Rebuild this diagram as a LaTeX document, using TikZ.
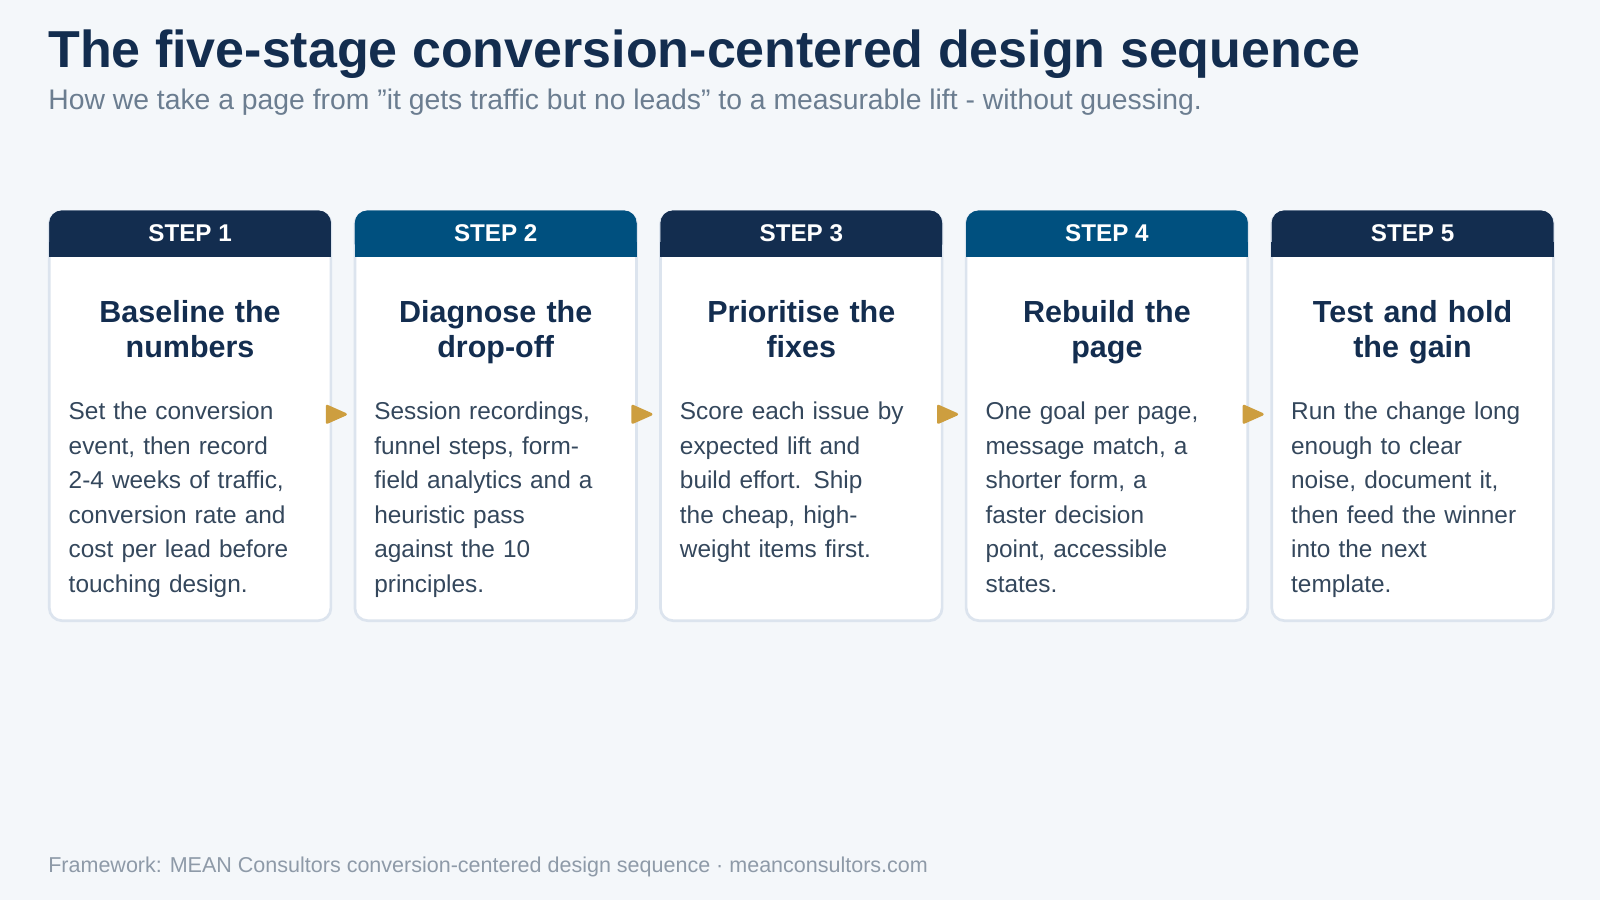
\documentclass[tikz,border=0pt]{standalone}
\usepackage{fontspec}
\setmainfont{Liberation Sans}
\usetikzlibrary{positioning}
\definecolor{pagebg}{HTML}{F4F7FA}
\definecolor{navy}{HTML}{132D4F}
\definecolor{teal}{HTML}{00507F}
\definecolor{cardline}{HTML}{DCE4EE}
\definecolor{bodytext}{HTML}{34475C}
\definecolor{subgrey}{HTML}{6B7D90}
\definecolor{footgrey}{HTML}{8E9AA8}
\definecolor{gold}{HTML}{CD9E3F}
\tikzset{
  card/.style={draw=cardline, line width=1.5pt, fill=white, rounded corners=7pt,
    minimum width=5.52cm, minimum height=8.02cm, inner sep=0pt, anchor=north west},
  head/.style={rounded corners=7pt, minimum width=5.52cm, minimum height=0.9cm,
    inner sep=0pt, text=white, font=\bfseries\fontsize{13.5}{16}\selectfont, anchor=north},
  ctitle/.style={text=navy, font=\bfseries\fontsize{17}{19.3}\selectfont, align=center,
    text width=5.2cm, anchor=north},
  cbody/.style={text=bodytext, font=\fontsize{13.6}{19.3}\selectfont, align=left,
    text width=5.1cm, anchor=north west, inner sep=0pt},
  flow/.style={fill=gold, draw=gold, line width=1.5pt, line join=round},
}
\begin{document}
\begin{tikzpicture}[x=0.02cm, y=-0.02cm]
  \fill[pagebg] (0,0) rectangle (1568,882);
  \useasboundingbox (0,0) rectangle (1568,882);

  % heading
  \node[anchor=west, inner sep=0pt, text=navy, font=\bfseries\fontsize{29}{32}\selectfont] (title) at (47,53) {The five-stage conversion-centered design sequence};
  \node[anchor=west, inner sep=0pt, text=subgrey, font=\fontsize{15.8}{18}\selectfont] (subtitle) at (47,100) {How we take a page from "it gets traffic but no leads" to a measurable lift - without guessing.};

  % cards
  \foreach \i/\col/\ttl/\txt in {
    1/navy/{Baseline the\\numbers}/{Set the conversion\\event, then record\\2-4 weeks of traffic,\\conversion rate and\\cost per lead before\\touching design.},
    2/teal/{Diagnose the\\drop-off}/{Session recordings,\\funnel steps, form-\\field analytics and a\\heuristic pass\\against the 10\\principles.},
    3/navy/{Prioritise the\\fixes}/{Score each issue by\\expected lift and\\build effort. Ship\\the cheap, high-\\weight items first.},
    4/teal/{Rebuild the\\page}/{One goal per page,\\message match, a\\shorter form, a\\faster decision\\point, accessible\\states.},
    5/navy/{Test and hold\\the gain}/{Run the change long\\enough to clear\\noise, document it,\\then feed the winner\\into the next\\template.}} {
    \node[card] (card\i) at ({47+299.5*(\i-1)},206) {};
    \node[head, fill=\col] (head\i) at (card\i.north) {STEP \i};
    \fill[\col] (head\i.south west) rectangle ([yshift=0.3cm]head\i.south east);
    \node[head, fill=\col] at (card\i.north) {STEP \i};
    \node[ctitle] (ttl\i) at ([yshift=-1.65cm]card\i.north) {\ttl};
    \node[cbody] (txt\i) at ([xshift=0.4cm,yshift=-3.75cm]card\i.north west) {\txt};
  }

  % arrows between cards
  \foreach \i in {1,...,4} {
    \coordinate (arr\i) at ([xshift=-0.1cm]card\i.east |- 0,406);
    \filldraw[flow] ([yshift=0.16cm]arr\i) -- ++(0.36cm,-0.16cm) -- ++(-0.36cm,-0.16cm) -- cycle;
  }

  % footer
  \node[anchor=west, inner sep=0pt, text=footgrey, font=\fontsize{12}{14}\selectfont] (footer) at (47,850) {Framework: MEAN Consultors conversion-centered design sequence · meanconsultors.com};
\end{tikzpicture}
\end{document}
